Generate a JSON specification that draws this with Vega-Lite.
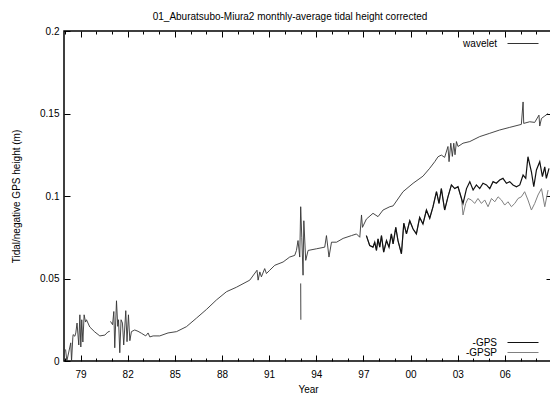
{
  "$schema": "https://vega.github.io/schema/vega-lite/v6.json",
  "width": 488,
  "height": 330,
  "autosize": {"type": "none"},
  "padding": {"left": 64, "top": 31, "right": 0, "bottom": 36},
  "background": "white",
  "title": {
    "text": "01_Aburatsubo-Miura2 monthly-average tidal height corrected",
    "font": "Liberation Sans",
    "fontSize": 10,
    "fontWeight": "normal",
    "color": "#000",
    "anchor": "middle",
    "dx": -18,
    "offset": -4,
    "baseline": "alphabetic"
  },
  "config": {
    "font": "Liberation Sans",
    "view": {"stroke": "#000", "strokeWidth": 1.5},
    "axis": {
      "grid": false,
      "domain": false,
      "labelFont": "Liberation Sans",
      "labelFontSize": 10,
      "labelColor": "#000",
      "titleFont": "Liberation Sans",
      "titleFontSize": 10,
      "titleFontWeight": "normal",
      "titleColor": "#000",
      "tickColor": "#000",
      "tickWidth": 1,
      "labelFlush": false,
      "labelOverlap": false
    },
    "legend": {
      "labelFont": "Liberation Sans",
      "labelFontSize": 10,
      "labelColor": "#000",
      "padding": 0,
      "title": null,
      "orient": "none",
      "labelAlign": "right",
      "labelOffset": -42,
      "symbolType": "stroke",
      "symbolSize": 961,
      "symbolStrokeWidth": 1
    }
  },
  "datasets": {
    "wavelet": [
      {"year": 1978.05, "h": 0.007, "seg": 1},
      {"year": 1978.13, "h": 0.0, "seg": 1},
      {"year": 1978.38, "h": 0.011, "seg": 1},
      {"year": 1978.43, "h": 0.0, "seg": 1},
      {"year": 1978.51, "h": 0.014, "seg": 1},
      {"year": 1978.53, "h": 0.016, "seg": 1},
      {"year": 1978.64, "h": 0.015, "seg": 1},
      {"year": 1978.70, "h": 0.017, "seg": 1},
      {"year": 1978.78, "h": 0.023, "seg": 1},
      {"year": 1978.89, "h": 0.0097, "seg": 1},
      {"year": 1978.96, "h": 0.028, "seg": 1},
      {"year": 1979.02, "h": 0.0085, "seg": 1},
      {"year": 1979.08, "h": 0.025, "seg": 1},
      {"year": 1979.15, "h": 0.0115, "seg": 1},
      {"year": 1979.23, "h": 0.028, "seg": 1},
      {"year": 1979.32, "h": 0.0236, "seg": 1},
      {"year": 1979.38, "h": 0.025, "seg": 1},
      {"year": 1979.59, "h": 0.0206, "seg": 1},
      {"year": 1979.91, "h": 0.0176, "seg": 1},
      {"year": 1980.23, "h": 0.0152, "seg": 1},
      {"year": 1980.55, "h": 0.0157, "seg": 1},
      {"year": 1980.74, "h": 0.0176, "seg": 1},
      {"year": 1980.86, "h": 0.018, "seg": 1},
      {"year": 1980.91, "h": 0.024, "seg": 2},
      {"year": 1981.04, "h": 0.022, "seg": 2},
      {"year": 1981.12, "h": 0.030, "seg": 2},
      {"year": 1981.18, "h": 0.008, "seg": 2},
      {"year": 1981.29, "h": 0.0365, "seg": 2},
      {"year": 1981.37, "h": 0.021, "seg": 2},
      {"year": 1981.42, "h": 0.025, "seg": 2},
      {"year": 1981.50, "h": 0.005, "seg": 2},
      {"year": 1981.58, "h": 0.025, "seg": 2},
      {"year": 1981.67, "h": 0.023, "seg": 2},
      {"year": 1981.75, "h": 0.0097, "seg": 2},
      {"year": 1981.88, "h": 0.0305, "seg": 2},
      {"year": 1981.96, "h": 0.0117, "seg": 2},
      {"year": 1982.05, "h": 0.028, "seg": 2},
      {"year": 1982.14, "h": 0.0123, "seg": 2},
      {"year": 1982.24, "h": 0.0178, "seg": 2},
      {"year": 1982.45, "h": 0.0188, "seg": 2},
      {"year": 1982.66, "h": 0.018, "seg": 2},
      {"year": 1982.88, "h": 0.0168, "seg": 2},
      {"year": 1983.15, "h": 0.0152, "seg": 2},
      {"year": 1983.30, "h": 0.017, "seg": 2},
      {"year": 1983.41, "h": 0.0146, "seg": 2},
      {"year": 1983.62, "h": 0.0152, "seg": 2},
      {"year": 1984.04, "h": 0.0152, "seg": 2},
      {"year": 1984.57, "h": 0.017, "seg": 2},
      {"year": 1985.11, "h": 0.0178, "seg": 2},
      {"year": 1985.74, "h": 0.0208, "seg": 2},
      {"year": 1986.38, "h": 0.026, "seg": 2},
      {"year": 1987.02, "h": 0.0313, "seg": 2},
      {"year": 1987.65, "h": 0.037, "seg": 2},
      {"year": 1988.29, "h": 0.042, "seg": 2},
      {"year": 1988.92, "h": 0.0447, "seg": 2},
      {"year": 1989.77, "h": 0.049, "seg": 2},
      {"year": 1990.23, "h": 0.055, "seg": 2},
      {"year": 1990.30, "h": 0.049, "seg": 2},
      {"year": 1990.41, "h": 0.054, "seg": 2},
      {"year": 1990.51, "h": 0.051, "seg": 2},
      {"year": 1990.72, "h": 0.056, "seg": 2},
      {"year": 1990.83, "h": 0.053, "seg": 2},
      {"year": 1991.04, "h": 0.055, "seg": 2},
      {"year": 1991.36, "h": 0.058, "seg": 2},
      {"year": 1991.89, "h": 0.060, "seg": 2},
      {"year": 1992.31, "h": 0.063, "seg": 2},
      {"year": 1992.63, "h": 0.064, "seg": 2},
      {"year": 1992.74, "h": 0.067, "seg": 2},
      {"year": 1992.84, "h": 0.073, "seg": 2},
      {"year": 1992.95, "h": 0.063, "seg": 2},
      {"year": 1993.01, "h": 0.0935, "seg": 2},
      {"year": 1993.08, "h": 0.075, "seg": 2},
      {"year": 1993.16, "h": 0.052, "seg": 2},
      {"year": 1993.21, "h": 0.085, "seg": 2},
      {"year": 1993.33, "h": 0.061, "seg": 2},
      {"year": 1993.48, "h": 0.067, "seg": 2},
      {"year": 1994.01, "h": 0.068, "seg": 2},
      {"year": 1994.54, "h": 0.069, "seg": 2},
      {"year": 1994.65, "h": 0.076, "seg": 2},
      {"year": 1994.81, "h": 0.063, "seg": 2},
      {"year": 1994.97, "h": 0.072, "seg": 2},
      {"year": 1995.29, "h": 0.072, "seg": 2},
      {"year": 1995.71, "h": 0.0743, "seg": 2},
      {"year": 1996.24, "h": 0.076, "seg": 2},
      {"year": 1996.56, "h": 0.077, "seg": 2},
      {"year": 1996.77, "h": 0.075, "seg": 2},
      {"year": 1996.88, "h": 0.0885, "seg": 2},
      {"year": 1996.94, "h": 0.081, "seg": 2},
      {"year": 1997.19, "h": 0.086, "seg": 2},
      {"year": 1997.61, "h": 0.0895, "seg": 2},
      {"year": 1997.93, "h": 0.0875, "seg": 2},
      {"year": 1998.25, "h": 0.0915, "seg": 2},
      {"year": 1998.68, "h": 0.0935, "seg": 2},
      {"year": 1998.89, "h": 0.094, "seg": 2},
      {"year": 1999.52, "h": 0.1026, "seg": 2},
      {"year": 2000.16, "h": 0.1077, "seg": 2},
      {"year": 2000.79, "h": 0.112, "seg": 2},
      {"year": 2001.22, "h": 0.1168, "seg": 2},
      {"year": 2001.54, "h": 0.1208, "seg": 2},
      {"year": 2001.75, "h": 0.1238, "seg": 2},
      {"year": 2001.96, "h": 0.1248, "seg": 2},
      {"year": 2002.17, "h": 0.1234, "seg": 2},
      {"year": 2002.38, "h": 0.130, "seg": 2},
      {"year": 2002.45, "h": 0.1208, "seg": 2},
      {"year": 2002.56, "h": 0.132, "seg": 2},
      {"year": 2002.66, "h": 0.124, "seg": 2},
      {"year": 2002.75, "h": 0.132, "seg": 2},
      {"year": 2002.83, "h": 0.125, "seg": 2},
      {"year": 2002.92, "h": 0.133, "seg": 2},
      {"year": 2003.02, "h": 0.130, "seg": 2},
      {"year": 2003.34, "h": 0.132, "seg": 2},
      {"year": 2003.77, "h": 0.133, "seg": 2},
      {"year": 2004.40, "h": 0.136, "seg": 2},
      {"year": 2005.04, "h": 0.138, "seg": 2},
      {"year": 2005.67, "h": 0.140, "seg": 2},
      {"year": 2006.31, "h": 0.1416, "seg": 2},
      {"year": 2007.05, "h": 0.1434, "seg": 2},
      {"year": 2007.16, "h": 0.157, "seg": 2},
      {"year": 2007.20, "h": 0.144, "seg": 2},
      {"year": 2007.58, "h": 0.145, "seg": 2},
      {"year": 2007.90, "h": 0.1446, "seg": 2},
      {"year": 2008.17, "h": 0.149, "seg": 2},
      {"year": 2008.22, "h": 0.1424, "seg": 2},
      {"year": 2008.33, "h": 0.147, "seg": 2},
      {"year": 2008.54, "h": 0.1485, "seg": 2},
      {"year": 2008.75, "h": 0.150, "seg": 2},
      {"year": 1993.01, "h": 0.047, "seg": 3},
      {"year": 1993.02, "h": 0.025, "seg": 3}
    ],
    "gps": [
      {"year": 1997.19, "h": 0.076},
      {"year": 1997.40, "h": 0.070},
      {"year": 1997.61, "h": 0.069},
      {"year": 1997.72, "h": 0.072},
      {"year": 1997.83, "h": 0.067},
      {"year": 1997.93, "h": 0.074},
      {"year": 1998.04, "h": 0.069},
      {"year": 1998.15, "h": 0.076},
      {"year": 1998.29, "h": 0.066},
      {"year": 1998.47, "h": 0.073},
      {"year": 1998.63, "h": 0.069},
      {"year": 1998.78, "h": 0.077},
      {"year": 1998.89, "h": 0.071},
      {"year": 1999.06, "h": 0.081},
      {"year": 1999.20, "h": 0.073},
      {"year": 1999.42, "h": 0.065},
      {"year": 1999.57, "h": 0.0835},
      {"year": 1999.74, "h": 0.077},
      {"year": 1999.95, "h": 0.085},
      {"year": 2000.16, "h": 0.080},
      {"year": 2000.37, "h": 0.077},
      {"year": 2000.58, "h": 0.087},
      {"year": 2000.79, "h": 0.083},
      {"year": 2001.01, "h": 0.0915},
      {"year": 2001.22, "h": 0.0865},
      {"year": 2001.43, "h": 0.0935},
      {"year": 2001.65, "h": 0.1026},
      {"year": 2001.81, "h": 0.0955},
      {"year": 2001.96, "h": 0.1045},
      {"year": 2002.17, "h": 0.0915},
      {"year": 2002.38, "h": 0.0995},
      {"year": 2002.60, "h": 0.1067},
      {"year": 2002.81, "h": 0.1045},
      {"year": 2003.02, "h": 0.1056},
      {"year": 2003.24, "h": 0.0985},
      {"year": 2003.34, "h": 0.0955},
      {"year": 2003.56, "h": 0.1045},
      {"year": 2003.77, "h": 0.1087},
      {"year": 2003.98, "h": 0.1036},
      {"year": 2004.19, "h": 0.1067},
      {"year": 2004.40, "h": 0.1045},
      {"year": 2004.61, "h": 0.1077},
      {"year": 2004.83, "h": 0.1067},
      {"year": 2005.04, "h": 0.1045},
      {"year": 2005.25, "h": 0.1087},
      {"year": 2005.46, "h": 0.1077},
      {"year": 2005.67, "h": 0.1097},
      {"year": 2005.88, "h": 0.1107},
      {"year": 2006.10, "h": 0.1077},
      {"year": 2006.31, "h": 0.1087},
      {"year": 2006.52, "h": 0.1067},
      {"year": 2006.74, "h": 0.1056},
      {"year": 2006.95, "h": 0.1067},
      {"year": 2007.16, "h": 0.1127},
      {"year": 2007.33, "h": 0.1107},
      {"year": 2007.47, "h": 0.1238},
      {"year": 2007.69, "h": 0.1147},
      {"year": 2007.84, "h": 0.1056},
      {"year": 2008.01, "h": 0.1158},
      {"year": 2008.22, "h": 0.1208},
      {"year": 2008.39, "h": 0.1117},
      {"year": 2008.54, "h": 0.1177},
      {"year": 2008.64, "h": 0.1107},
      {"year": 2008.81, "h": 0.1168}
    ],
    "gpsp": [
      {"year": 1997.19, "h": 0.076},
      {"year": 1997.40, "h": 0.070},
      {"year": 1997.61, "h": 0.069},
      {"year": 1997.72, "h": 0.072},
      {"year": 1997.83, "h": 0.067},
      {"year": 1997.93, "h": 0.074},
      {"year": 1998.04, "h": 0.069},
      {"year": 1998.15, "h": 0.076},
      {"year": 1998.29, "h": 0.066},
      {"year": 1998.47, "h": 0.073},
      {"year": 1998.63, "h": 0.069},
      {"year": 1998.78, "h": 0.077},
      {"year": 1998.89, "h": 0.071},
      {"year": 1999.06, "h": 0.081},
      {"year": 1999.20, "h": 0.073},
      {"year": 1999.42, "h": 0.065},
      {"year": 1999.57, "h": 0.0835},
      {"year": 1999.74, "h": 0.077},
      {"year": 1999.95, "h": 0.085},
      {"year": 2000.16, "h": 0.080},
      {"year": 2000.37, "h": 0.077},
      {"year": 2000.58, "h": 0.087},
      {"year": 2000.79, "h": 0.083},
      {"year": 2001.01, "h": 0.0915},
      {"year": 2001.22, "h": 0.0865},
      {"year": 2001.43, "h": 0.0935},
      {"year": 2001.65, "h": 0.1026},
      {"year": 2001.81, "h": 0.0955},
      {"year": 2001.96, "h": 0.1045},
      {"year": 2002.17, "h": 0.0915},
      {"year": 2002.38, "h": 0.0995},
      {"year": 2002.60, "h": 0.1067},
      {"year": 2002.81, "h": 0.1045},
      {"year": 2003.02, "h": 0.1056},
      {"year": 2003.24, "h": 0.0985},
      {"year": 2003.34, "h": 0.0885},
      {"year": 2003.51, "h": 0.0955},
      {"year": 2003.66, "h": 0.0985},
      {"year": 2003.87, "h": 0.0976},
      {"year": 2004.08, "h": 0.0955},
      {"year": 2004.29, "h": 0.0985},
      {"year": 2004.51, "h": 0.0955},
      {"year": 2004.72, "h": 0.0976},
      {"year": 2004.93, "h": 0.0935},
      {"year": 2005.15, "h": 0.0985},
      {"year": 2005.36, "h": 0.0965},
      {"year": 2005.57, "h": 0.0995},
      {"year": 2005.78, "h": 0.0976},
      {"year": 2005.99, "h": 0.0945},
      {"year": 2006.20, "h": 0.0965},
      {"year": 2006.42, "h": 0.0935},
      {"year": 2006.63, "h": 0.0955},
      {"year": 2006.84, "h": 0.0985},
      {"year": 2007.05, "h": 0.0995},
      {"year": 2007.26, "h": 0.1026},
      {"year": 2007.47, "h": 0.0976},
      {"year": 2007.69, "h": 0.0915},
      {"year": 2007.90, "h": 0.0955},
      {"year": 2008.11, "h": 0.1006},
      {"year": 2008.33, "h": 0.1045},
      {"year": 2008.54, "h": 0.0935},
      {"year": 2008.75, "h": 0.1036}
    ]
  },
  "layer": [
    {
      "data": {"name": "wavelet"},
      "mark": {"type": "line", "strokeWidth": 0.9, "clip": true},
      "encoding": {
        "x": {
          "field": "year", "type": "quantitative",
          "scale": {"domain": [1977.95, 2009.0], "nice": false, "zero": false},
          "axis": {
            "orient": "bottom",
            "title": "Year",
            "titlePadding": 2,
            "values": [1978,1979,1980,1981,1982,1983,1984,1985,1986,1987,1988,1989,1990,1991,1992,1993,1994,1995,1996,1997,1998,1999,2000,2001,2002,2003,2004,2005,2006,2007,2008],
            "labelExpr": "(datum.value - 1979) % 3 == 0 ? slice(toString(datum.value), 2) : ''",
            "tickSize": {"condition": {"test": "(datum.value - 1979) % 3 == 0", "value": -6}, "value": -3},
            "labelPadding": 14
          }
        },
        "y": {
          "field": "h", "type": "quantitative",
          "scale": {"domain": [0, 0.2], "nice": false, "zero": false},
          "axis": {
            "orient": "left",
            "title": "Tidal/negative GPS height (m)",
            "titlePadding": 18,
            "values": [0, 0.05, 0.1, 0.15, 0.2],
            "format": "~g",
            "tickSize": -6,
            "labelPadding": 11
          }
        },
        "detail": {"field": "seg", "type": "nominal"},
        "color": {
          "datum": "wavelet",
          "type": "nominal",
          "scale": {"domain": ["wavelet"], "range": ["#333333"]},
          "legend": {"orient": "none", "legendX": 443, "legendY": -3.5}
        }
      }
    },
    {
      "data": {"name": "gpsp"},
      "mark": {"type": "line", "strokeWidth": 1, "clip": true},
      "encoding": {
        "x": {"field": "year", "type": "quantitative", "axis": null},
        "y": {"field": "h", "type": "quantitative", "axis": null},
        "color": {
          "datum": "-GPSP", "type": "nominal",
          "scale": {"domain": ["-GPSP"], "range": ["#808080"]},
          "legend": {"orient": "none", "legendX": 443, "legendY": 305.5}
        }
      }
    },
    {
      "data": {"name": "gps"},
      "mark": {"type": "line", "strokeWidth": 1.2, "clip": true},
      "encoding": {
        "x": {"field": "year", "type": "quantitative", "axis": null},
        "y": {"field": "h", "type": "quantitative", "axis": null},
        "color": {
          "datum": "-GPS", "type": "nominal",
          "scale": {"domain": ["-GPS"], "range": ["#111111"]},
          "legend": {"orient": "none", "legendX": 443, "legendY": 295.5}
        }
      }
    },
    {
      "data": {"name": "gps"},
      "mark": {"type": "line", "opacity": 0},
      "encoding": {
        "x": {
          "field": "year", "type": "quantitative",
          "axis": {
            "orient": "top", "title": null, "labels": false,
            "values": [1978,1979,1980,1981,1982,1983,1984,1985,1986,1987,1988,1989,1990,1991,1992,1993,1994,1995,1996,1997,1998,1999,2000,2001,2002,2003,2004,2005,2006,2007,2008],
            "tickSize": {"condition": {"test": "(datum.value - 1979) % 3 == 0", "value": -6}, "value": -3}
          }
        },
        "y": {
          "field": "h", "type": "quantitative",
          "axis": {
            "orient": "right", "title": null, "labels": false,
            "values": [0.05, 0.1, 0.15],
            "tickSize": -6
          }
        }
      }
    }
  ],
  "resolve": {
    "scale": {"color": "independent"},
    "axis": {"x": "independent", "y": "independent"}
  }
}
